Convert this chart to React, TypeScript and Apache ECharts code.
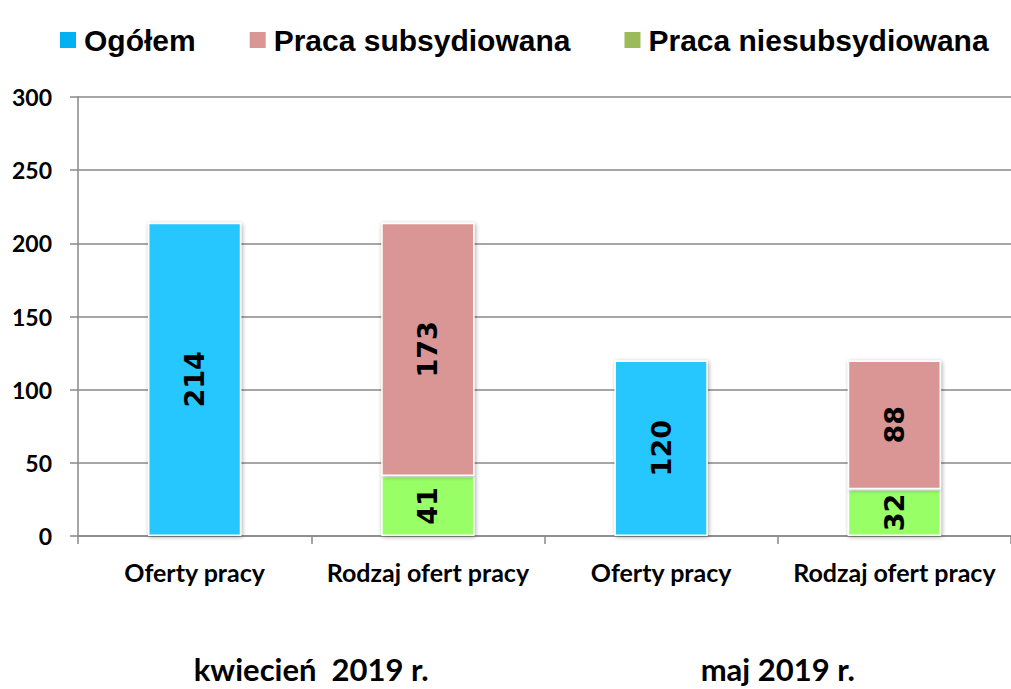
import React, { useEffect, useRef } from "react";
import * as echarts from "echarts";

const categories = ["Oferty pracy", "Rodzaj ofert pracy", "Oferty pracy", "Rodzaj ofert pracy"];
const groups = ["kwiecień  2019 r.", "maj 2019 r."];
const ogolem = [214, null, 120, null];
const subsydiowana = [null, 173, null, 88];
const niesubsydiowana = [null, 41, null, 32];
const yTicks = { min: 0, max: 300, interval: 50 };

export default function App() {
  const ref = useRef<HTMLDivElement>(null);
  useEffect(() => {
    if (!ref.current) return;
    const chart = echarts.init(ref.current, null, { renderer: "svg" });
    const label = {
      show: true,
      position: "inside",
      rotate: 90,
      fontFamily: "DejaVu Sans",
      fontWeight: "bold",
      fontSize: 27,
      color: "#000",
      formatter: (p: any) => (p.value == null ? "" : String(p.value)),
    };
    const itemBase = {
      borderColor: "#fff",
      borderWidth: 1.5,
      shadowBlur: 4,
      shadowColor: "rgba(0,0,0,0.35)",
      shadowOffsetX: 1,
      shadowOffsetY: 1,
    };
    chart.setOption({
      animation: false,
      legend: {
        left: 53,
        top: 20,
        itemWidth: 18,
        itemHeight: 18,
        itemGap: 52,
        icon: "rect",
        textStyle: { fontFamily: "Liberation Sans", fontWeight: "bold", fontSize: 30, color: "#000", padding: [0, 0, 0, 2] },
        data: [
          { name: "Ogółem", itemStyle: { color: "#00B0F0" } },
          { name: "Praca subsydiowana", itemStyle: { color: "#D99694" } },
          { name: "Praca niesubsydiowana", itemStyle: { color: "#9BBB59" } },
        ],
      },
      grid: { left: 78, right: 0, top: 97, bottom: 153, containLabel: false },
      xAxis: [
        {
          type: "category",
          data: categories,
          axisLine: { lineStyle: { color: "#888", width: 1.5 } },
          axisTick: { show: true, length: 8, lineStyle: { color: "#888", width: 1.5 } },
          axisLabel: { interval: 0, margin: 23, fontFamily: "Lato", fontWeight: "bold", fontSize: 25, color: "#000" },
        },
        {
          type: "category",
          data: groups,
          position: "bottom",
          offset: 93,
          axisLine: { show: false },
          axisTick: { show: false },
          axisLabel: { interval: 0, margin: 24, fontFamily: "Lato", fontWeight: "bold", fontSize: 31, color: "#000" },
        },
      ],
      yAxis: {
        type: "value",
        min: yTicks.min,
        max: yTicks.max,
        interval: yTicks.interval,
        axisLine: { show: true, lineStyle: { color: "#888", width: 1.5 } },
        axisTick: { show: true, length: 8, lineStyle: { color: "#888", width: 1.5 } },
        splitLine: { lineStyle: { color: "#888", width: 1.5 } },
        axisLabel: { margin: 26, fontFamily: "Lato", fontWeight: "bold", fontSize: 23, color: "#000" },
      },
      series: [
        {
          name: "Ogółem",
          type: "bar",
          stack: "s",
          barWidth: "40%",
          data: ogolem,
          itemStyle: { ...itemBase, color: "#26C6FF" },
          label,
        },
        {
          name: "Praca niesubsydiowana",
          type: "bar",
          stack: "s",
          barWidth: "40%",
          data: niesubsydiowana,
          itemStyle: { ...itemBase, color: "#99FF66" },
          label,
        },
        {
          name: "Praca subsydiowana",
          type: "bar",
          stack: "s",
          barWidth: "40%",
          data: subsydiowana,
          itemStyle: { ...itemBase, color: "#D99694" },
          label,
        },
      ],
    });
    return () => chart.dispose();
  }, []);
  return (
    <div
      ref={ref}
      style={{ position: "fixed", left: 0, top: 0, width: 1011, height: 689, background: "#fff" }}
    />
  );
}
